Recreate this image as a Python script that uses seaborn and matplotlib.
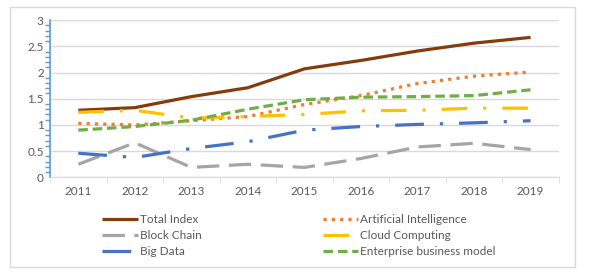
import numpy as np
import pandas as pd
import matplotlib
matplotlib.use("Agg")
import matplotlib.pyplot as plt
import seaborn as sns
from matplotlib.patches import Rectangle
from matplotlib.ticker import MultipleLocator

sns.set_style("white")
plt.rcParams['font.family'] = ['Lato', 'DejaVu Sans']

# data
years = ['2011', '2012', '2013', '2014', '2015', '2016', '2017', '2018', '2019']
total_index = [1.28, 1.33, 1.54, 1.71, 2.07, 2.23, 2.41, 2.56, 2.67]
artificial_intelligence = [1.03, 1.00, 1.08, 1.16, 1.39, 1.56, 1.79, 1.93, 2.01]
block_chain = [0.25, 0.66, 0.19, 0.25, 0.19, 0.36, 0.58, 0.65, 0.53]
cloud_computing = [1.24, 1.28, 1.13, 1.16, 1.20, 1.27, 1.28, 1.32, 1.32]
big_data = [0.46, 0.38, 0.55, 0.68, 0.90, 0.97, 1.01, 1.04, 1.08]
enterprise_model = [0.90, 0.97, 1.09, 1.30, 1.48, 1.53, 1.54, 1.56, 1.67]

series = {
    'Total Index': (total_index, '#843C0C', '-'),
    'Artificial Intelligence': (artificial_intelligence, '#ED7D31', (0, (1, 1.6))),
    'Block Chain': (block_chain, '#A5A5A5', (0, (7, 3))),
    'Cloud Computing': (cloud_computing, '#FFC000', (0, (8, 5, 1, 5))),
    'Big Data': (big_data, '#4472C4', (0, (9, 5, 1, 5))),
    'Enterprise business model': (enterprise_model, '#70AD47', (0, (3, 1.5))),
}

fig = plt.figure(figsize=(5.92, 2.75), dpi=100)
ax = fig.add_axes([0.0845, 0.355, 0.8595, 0.572])

x = np.arange(len(years))
lines = {}
for name, (vals, color, ls) in series.items():
    df = pd.DataFrame({'x': x, 'y': vals})
    sns.lineplot(data=df, x='x', y='y', ax=ax, color=color, linewidth=2.3,
                 linestyle=ls, label=name, legend=False)
    lines[name] = ax.lines[-1]
    lines[name].set_linestyle(ls)
    lines[name].set_solid_capstyle('butt')

ax.set_xlim(-0.5, len(years) - 0.5)
ax.set_ylim(0, 3)
ax.set_xticks(x)
ax.set_xticklabels(years)
ax.set_xlabel('')
ax.set_ylabel('')
ax.yaxis.set_major_locator(MultipleLocator(0.5))
ax.yaxis.set_minor_locator(MultipleLocator(0.1))
ax.yaxis.set_major_formatter(matplotlib.ticker.FuncFormatter(lambda v, p: f'{v:g}'))
ax.grid(axis='y', color='#D9D9D9', linewidth=1)
ax.set_axisbelow(True)

for s in ['top', 'right']:
    ax.spines[s].set_visible(False)
ax.spines['left'].set_color('#5B9BD5')
ax.spines['left'].set_linewidth(1.2)
ax.spines['bottom'].set_color('#D9D9D9')
ax.tick_params(axis='y', which='major', direction='inout', length=7, width=1.2,
               color='#5B9BD5', labelsize=8.5, labelcolor='#595959', pad=1)
ax.tick_params(axis='y', which='minor', direction='out', length=3.5, width=1,
               color='#5B9BD5', left=True)
ax.tick_params(axis='x', length=0, labelsize=8.5, labelcolor='#595959', pad=6)
# tick marks at the category boundaries
ax.set_xticks(np.arange(-0.5, len(years)), minor=True)
ax.tick_params(axis='x', which='minor', length=4, color='#D9D9D9', bottom=True)

order = ['Total Index', 'Block Chain', 'Big Data',
         'Artificial Intelligence', 'Cloud Computing', 'Enterprise business model']
fig.legend([lines[n] for n in order], order, ncol=2, loc='upper left',
           bbox_to_anchor=(0.163, 0.243), frameon=False, fontsize=8.5,
           labelcolor='#595959', handlelength=3.0, handletextpad=0.15,
           columnspacing=10.3, labelspacing=0.42, borderpad=0)

fig.patches.append(Rectangle((0.017, 0.029), 0.954, 0.946, transform=fig.transFigure,
                             fill=False, edgecolor='#D9D9D9', linewidth=1))

fig.savefig('out.png', dpi=100)
